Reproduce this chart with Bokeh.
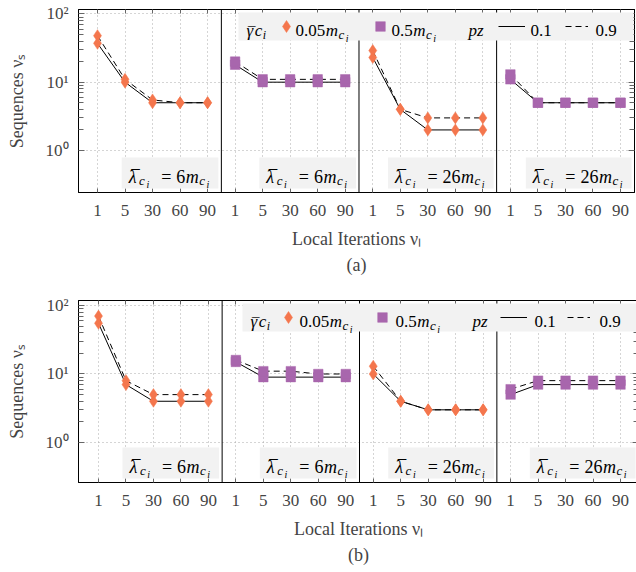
import math
from bokeh.plotting import figure
from bokeh.models import (Range1d, FixedTicker, LinearAxis, LogAxis, Label, BoxAnnotation,
                          Span, Legend, LegendItem, Title, ColumnDataSource)
from bokeh.core.properties import value
from bokeh.layouts import column
from bokeh.embed import file_html
from bokeh.resources import INLINE

# ---------------- data ----------------
iterations = ["1", "5", "30", "60", "90"]          # local iterations (x categories)
gamma_values = ["0.05", "0.5"]                     # gamma_bar c_i (x m_ci)
panel_gamma = [0, 1, 0, 1]                         # gamma index of each panel
panel_lambda = ["6", "6", "26", "26"]              # lambda_bar c_i (x m_ci)
pz_values = ["0.1", "0.9"]

# chart (a): sequences per panel
a_pz01 = [[37, 10, 5, 5, 5], [18, 10, 10, 10, 10], [23, 4, 2, 2, 2], [11, 5, 5, 5, 5]]
a_pz09 = [[48, 11, 5.5, 5, 5], [20, 11, 11, 11, 11], [29, 4, 3, 3, 3], [13, 5, 5, 5, 5]]
# chart (b)
b_pz01 = [[55, 7, 4, 4, 4], [15, 9, 9, 9, 9], [10, 4, 3, 3, 3], [5, 7, 7, 7, 7]]
b_pz09 = [[70, 8, 5, 5, 5], [16, 11, 11, 10, 10], [13, 4, 3, 3, 3], [6, 8, 8, 8, 8]]

# ---------------- style ----------------
ORANGE = "#f4764d"
PURPLE = "#a866ad"
gamma_colors = [ORANGE, PURPLE]
gamma_markers = ["diamond", "square"]
gamma_sizes = [12, 9.5]
FONT = "'Liberation Serif', 'Times New Roman', serif"
BOXFILL = "#f2f2f2"
GRID = "#aaaaaa"
TICK = "#666666"

EM = {
    "normal": {".": 0.25, " ": 0.25, "=": 0.564, "¯": 0.5},
    "italic": {"m": 0.722, "c": 0.444, "i": 0.278, "p": 0.5, "z": 0.389,
               "λ": 0.55, "γ": 0.45},
}


def text_width(t, size, style):
    return sum(EM[style].get(ch, 0.5) for ch in t) * size


def compose(p, X, Y, px, py, parts):
    """parts: (text, size, dy, style, gap[, dx, advance])"""
    x = px
    for part in parts:
        t, size, dy, style, gap = part[:5]
        dx = part[5] if len(part) > 5 else 0
        advance = part[6] if len(part) > 6 else True
        p.add_layout(Label(x=X(x + dx), y=Y(py + dy), text=t, text_font=FONT,
                           text_font_size=f"{size}px", text_font_style=style,
                           text_color="black", text_baseline="alphabetic",
                           text_align="left"))
        if advance:
            x += text_width(t, size, style) + gap
    return x


def parts_width(parts):
    return sum(text_width(pt[0], pt[1], pt[3]) + pt[4] for pt in parts
               if (pt[6] if len(pt) > 6 else True))


def make_chart(s01, s09, caption, fw, fh, bl, bt, bb, x0, x1, ylo, yhi):
    p = figure(frame_width=fw, frame_height=fh, x_range=Range1d(x0, x1),
               y_range=Range1d(ylo, yhi), y_axis_type="log",
               output_backend="svg", toolbar_location=None,
               min_border_left=bl, min_border_right=2, min_border_top=bt,
               min_border_bottom=bb, outline_line_color="black",
               outline_line_width=1, background_fill_color="white",
               border_fill_color="white")

    lx0, lx1 = math.log10(ylo), math.log10(yhi)
    X = lambda px: x0 + (x1 - x0) * px / fw
    Y = lambda py: 10 ** (lx0 + (lx1 - lx0) * py / fh)
    PX = lambda x: (x - x0) / (x1 - x0) * fw

    xticks = [5 * k + i for k in range(4) for i in range(len(iterations))]
    overrides = {5 * k + i: iterations[i] for k in range(4) for i in range(len(iterations))}
    ymajor = [1, 10, 100]
    yminor = [m * d for d in (1, 10) for m in range(2, 10)]

    # grids
    p.xgrid.ticker = FixedTicker(ticks=xticks)
    p.ygrid.ticker = FixedTicker(ticks=ymajor)
    for g in (p.xgrid, p.ygrid):
        g.grid_line_color = GRID
        g.grid_line_dash = "1 3"
        g.grid_line_width = 1

    # bottom axis
    xa = p.xaxis[0]
    xa.ticker = FixedTicker(ticks=xticks)
    xa.major_label_overrides = overrides
    xa.major_tick_in = 4
    xa.major_tick_out = 0
    xa.minor_tick_line_color = None
    xa.major_tick_line_color = TICK
    xa.axis_line_color = "black"
    xa.major_label_text_font = FONT
    xa.major_label_text_font_size = "17px"
    xa.major_label_standoff = 12
    xa.axis_label = "Local Iterations νₗ"
    xa.axis_label_text_font = FONT
    xa.axis_label_text_font_size = "18px"
    xa.axis_label_text_font_style = "normal"
    xa.axis_label_standoff = 10

    # left axis
    ya = p.yaxis[0]
    ya.ticker = FixedTicker(ticks=ymajor, minor_ticks=yminor)
    ya.major_label_overrides = {1: "10⁰", 10: "10¹", 100: "10²"}
    ya.major_tick_in = 6
    ya.major_tick_out = 0
    ya.minor_tick_in = 5
    ya.minor_tick_out = 0
    ya.major_tick_line_color = TICK
    ya.minor_tick_line_color = TICK
    ya.axis_line_color = "black"
    ya.major_label_text_font = FONT
    ya.major_label_text_font_size = "17px"
    ya.major_label_standoff = 10
    ya.axis_label = "Sequences νₛ"
    ya.axis_label_text_font = FONT
    ya.axis_label_text_font_size = "18px"
    ya.axis_label_text_font_style = "normal"
    ya.axis_label_standoff = 16

    # top / right frame ticks (labels not drawn)
    top = LinearAxis(ticker=FixedTicker(ticks=xticks), major_label_text_font_size="1px",
                     major_label_text_color=None, major_label_standoff=0,
                     major_tick_in=4, major_tick_out=0,
                     minor_tick_line_color=None, major_tick_line_color=TICK,
                     axis_line_color="black")
    p.add_layout(top, "above")
    right = LogAxis(ticker=FixedTicker(ticks=ymajor, minor_ticks=yminor),
                    major_label_text_font_size="1px", major_label_text_color=None,
                    major_label_standoff=0,
                    major_tick_in=6, major_tick_out=0, minor_tick_in=5, minor_tick_out=0,
                    major_tick_line_color=TICK, minor_tick_line_color=TICK,
                    axis_line_color="black")
    p.add_layout(right, "right")

    # panel separators
    for k in range(3):
        p.add_layout(Span(location=5 * k + 4.5, dimension="height",
                          line_color="black", line_width=1))

    # data
    xs = [[5 * k + i for i in range(len(iterations))] for k in range(4)]
    r01 = p.multi_line(xs=xs, ys=s01, line_color="black", line_width=1)
    r09 = p.multi_line(xs=xs, ys=s09, line_color="black", line_width=1, line_dash="6 4")

    sx, sy, sc, sm, ss = [], [], [], [], []
    for series in (s01, s09):
        for k in range(4):
            g = panel_gamma[k]
            for i in range(len(iterations)):
                sx.append(5 * k + i)
                sy.append(series[k][i])
                sc.append(gamma_colors[g])
                sm.append(gamma_markers[g])
                ss.append(gamma_sizes[g])
    src = ColumnDataSource(dict(x=sx, y=sy, color=sc, marker=sm, size=ss))
    rs = p.scatter("x", "y", source=src, marker="marker", size="size",
                   fill_color="color", line_color="color", line_width=0.5)

    # panel labels
    for k in range(4):
        edge = PX(5 * k + 4.5) if k < 3 else fw
        parts = [("¯", 17, 0.5, "normal", 0, 2.5, False),
                 ("λ", 18, 0, "italic", 0.5), ("c", 13, -4, "italic", 1.5),
                 ("i", 10, -7.5, "italic", 12), ("=", 18, 0, "normal", 5),
                 (panel_lambda[k], 18, 0, "normal", 0.5), ("m", 18, 0, "italic", 0.5),
                 ("c", 13, -4, "italic", 1.5), ("i", 10, -7.5, "italic", 0)]
        w = parts_width(parts)
        br = edge - 3
        tl = br - 9 - w
        p.add_layout(BoxAnnotation(left=X(tl - 7), right=X(br), bottom=Y(4), top=Y(35),
                                   fill_color=BOXFILL, fill_alpha=1, line_color=None,
                                   line_alpha=0))
        compose(p, X, Y, tl, 16, parts)

    # legend box
    L = fw - 1 - 395
    p.add_layout(BoxAnnotation(left=X(L), right=X(fw - 1), bottom=Y(fh - 31), top=Y(fh - 3),
                               fill_color=BOXFILL, fill_alpha=1, line_color=None,
                               line_alpha=0))
    bly = fh - 21
    compose(p, X, Y, L + 8, bly, [("¯", 15, -1.5, "normal", 0, 1.5, False),
                                  ("γ", 17, 0, "italic", 0.5), ("c", 17, 0, "italic", 0.5),
                                  ("i", 12, -4, "italic", 0)])
    for g, cx in zip(range(2), (L + 57, L + 153)):
        compose(p, X, Y, cx, bly, [(gamma_values[g], 17, 0, "normal", 0.5),
                                   ("m", 17, 0, "italic", 0.5),
                                   ("c", 13, -4, "italic", 1.5), ("i", 10, -7.5, "italic", 0)])
    compose(p, X, Y, L + 230, bly, [("pz", 17, 0, "italic", 0)])
    compose(p, X, Y, L + 292, bly, [(pz_values[0], 17, 0, "normal", 0)])
    compose(p, X, Y, L + 357, bly, [(pz_values[1], 17, 0, "normal", 0)])

    def key(r, idx, loc, gw, gh):
        leg = Legend(items=[LegendItem(label=value(" "), renderers=[r], index=idx)],
                     location=loc, glyph_width=gw, glyph_height=gh, label_width=1,
                     label_standoff=0, label_height=1, label_text_font_size="2px",
                     padding=0, margin=0, spacing=0, border_line_color=None,
                     background_fill_alpha=0)
        p.add_layout(leg)

    key(rs, 0, (L + 48 - 15, fh - 17 - 15), 30, 30)
    key(rs, 5, (L + 142 - 12, fh - 17 - 12), 24, 24)
    key(r01, 0, (L + 260, fh - 17 - 5), 27, 10)
    key(r09, 0, (L + 327, fh - 17 - 5), 23, 10)

    p.add_layout(Title(text=caption, align="center", text_font=FONT,
                       text_font_size="18px", text_font_style="normal",
                       standoff=2), "below")
    return p


pa = make_chart(a_pz01, a_pz09, "(a)", fw=556, fh=183, bl=78, bt=9, bb=90,
                x0=-0.690, x1=19.509, ylo=0.2427, yhi=115.9)
pb = make_chart(b_pz01, b_pz09, "(b)", fw=560, fh=182, bl=74, bt=18, bb=90,
                x0=-0.728, x1=19.655, ylo=0.2606, yhi=118.3)

layout = column(pa, pb, spacing=0)
open("out.html", "w").write(file_html(layout, INLINE))
